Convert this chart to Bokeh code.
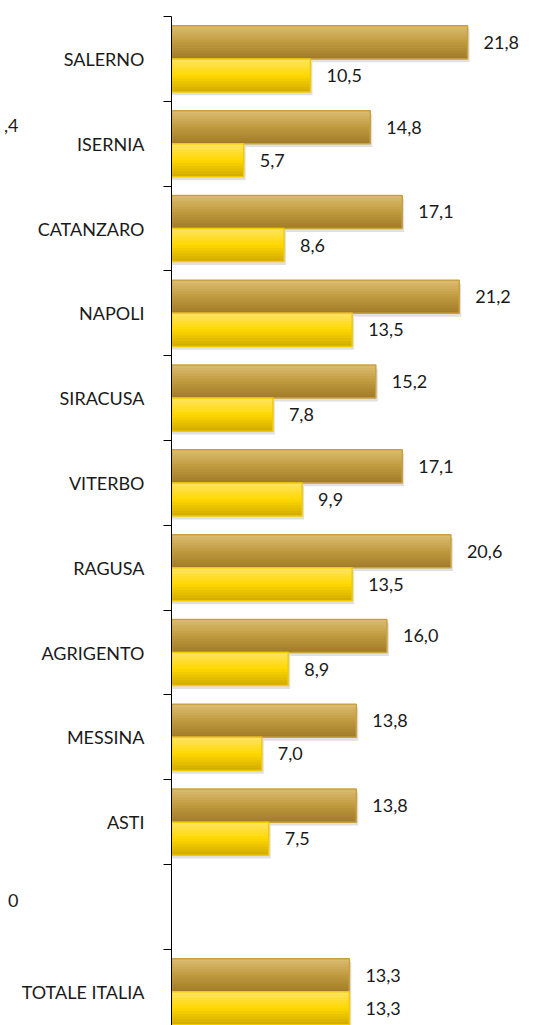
from bokeh.plotting import figure
from bokeh.models import Range1d, FixedTicker, ColumnDataSource, LinearAxis
from bokeh.transform import dodge
from bokeh.core.properties import value
from bokeh.embed import file_html
from bokeh.resources import INLINE

# ---- data ----
categories = ["SALERNO", "ISERNIA", "CATANZARO", "NAPOLI", "SIRACUSA", "VITERBO",
              "RAGUSA", "AGRIGENTO", "MESSINA", "ASTI", "", "TOTALE ITALIA"]
series_a = [21.8, 14.8, 17.1, 21.2, 15.2, 17.1, 20.6, 16.0, 13.8, 13.8, None, 13.3]
series_b = [10.5, 5.7, 8.6, 13.5, 7.8, 9.9, 13.5, 8.9, 7.0, 7.5, None, 13.3]
stray_texts = [",4", "0"]

FONT = "Lato"
n = len(categories)
centers = [n - 1 - i + 0.5 for i in range(n)]

def fmt(v):
    return "" if v is None else f"{v:.1f}".replace(".", ",")

rows = [i for i in range(n) if series_a[i] is not None]
src = ColumnDataSource(dict(
    y=[centers[i] for i in rows],
    a=[series_a[i] for i in rows],
    b=[series_b[i] for i in rows],
    la=[fmt(series_a[i]) for i in rows],
    lb=[fmt(series_b[i]) for i in rows],
))

p = figure(width=545, height=1025, output_backend="svg", toolbar_location=None,
           x_range=Range1d(0.51, 27.4), y_range=Range1d(0.102, n),
           x_axis_location=None, y_axis_location="left",
           min_border_left=171, min_border_right=0, min_border_top=16, min_border_bottom=0)
p.outline_line_color = None
p.grid.visible = False
p.background_fill_color = "white"

BH = 0.39  # bar height (fraction of band)

def interp(c1, c2, t):
    a = [int(c1[k:k + 2], 16) for k in (1, 3, 5)]
    b = [int(c2[k:k + 2], 16) for k in (1, 3, 5)]
    return "#%02x%02x%02x" % tuple(round(a[k] + (b[k] - a[k]) * t) for k in range(3))

def grad(stops, t):
    if t <= 0.5:
        return interp(stops[0], stops[1], t / 0.5)
    return interp(stops[1], stops[2], (t - 0.5) / 0.5)

dark_stops = ("#dcbd72", "#c09a3e", "#a07a2a")
yel_stops = ("#ffe466", "#ffd800", "#d0a900")

def draw_bar(col, center_off, stops, border):
    # soft shadow
    p.hbar(y=dodge("y", center_off - 0.04, range=p.y_range), left=0,
           right=dodge(col, 0.14, range=p.x_range), height=BH, source=src,
           fill_color="#000000", fill_alpha=0.12, line_color=None)
    K = 12
    h = BH / K
    for j in range(K):
        t = (j + 0.5) / K
        top = center_off + BH / 2 - j * h
        hh = h if j == K - 1 else h * 1.6
        p.hbar(y=dodge("y", top - hh / 2, range=p.y_range), left=0, right=col, height=hh,
               source=src, fill_color=grad(stops, t), line_color=None)
    p.hbar(y=dodge("y", center_off, range=p.y_range), left=0, right=col, height=BH,
           source=src, fill_color=None, line_color=border, line_width=1.5)

draw_bar("a", BH / 2, dark_stops, "#c9a23f")
draw_bar("b", -BH / 2, yel_stops, "#f2cc00")

for col, lab, off in (("a", "la", BH / 2), ("b", "lb", -BH / 2)):
    p.text(x=col, y=dodge("y", off, range=p.y_range), text=lab, source=src,
           x_offset=16, text_baseline="middle", text_align="left",
           text_font=value(FONT), text_font_size="18px", text_color="#1a1a1a")

ax = p.yaxis[0]
ax.ticker = FixedTicker(ticks=centers, minor_ticks=list(range(0, n + 1)))
ax.major_label_overrides = {c: categories[i] for i, c in enumerate(centers)}
ax.major_tick_in = 0
ax.major_tick_out = 0
ax.minor_tick_in = 0
ax.minor_tick_out = 8
ax.minor_tick_line_color = "#000000"
ax.axis_line_color = "#000000"
ax.axis_line_width = 1
ax.major_label_standoff = 19
ax.major_label_text_font = FONT
ax.major_label_text_font_size = "18px"
ax.major_label_text_color = "#1a1a1a"

# fragments of a neighbouring chart visible at the left edge (as an outer, line-less axis)
stray_pos = [10.715, 1.575]
ax2 = LinearAxis(ticker=FixedTicker(ticks=stray_pos),
                 major_label_overrides={stray_pos[0]: stray_texts[0], stray_pos[1]: stray_texts[1]},
                 axis_line_color=None, major_tick_line_color=None, minor_tick_line_color=None,
                 major_tick_out=0, major_tick_in=0, minor_tick_out=0, minor_tick_in=0,
                 major_label_standoff=0, major_label_text_font=FONT,
                 major_label_text_font_size="18px", major_label_text_color="#1a1a1a")
p.add_layout(ax2, "left")

open("out.html", "w").write(file_html(p, INLINE))
